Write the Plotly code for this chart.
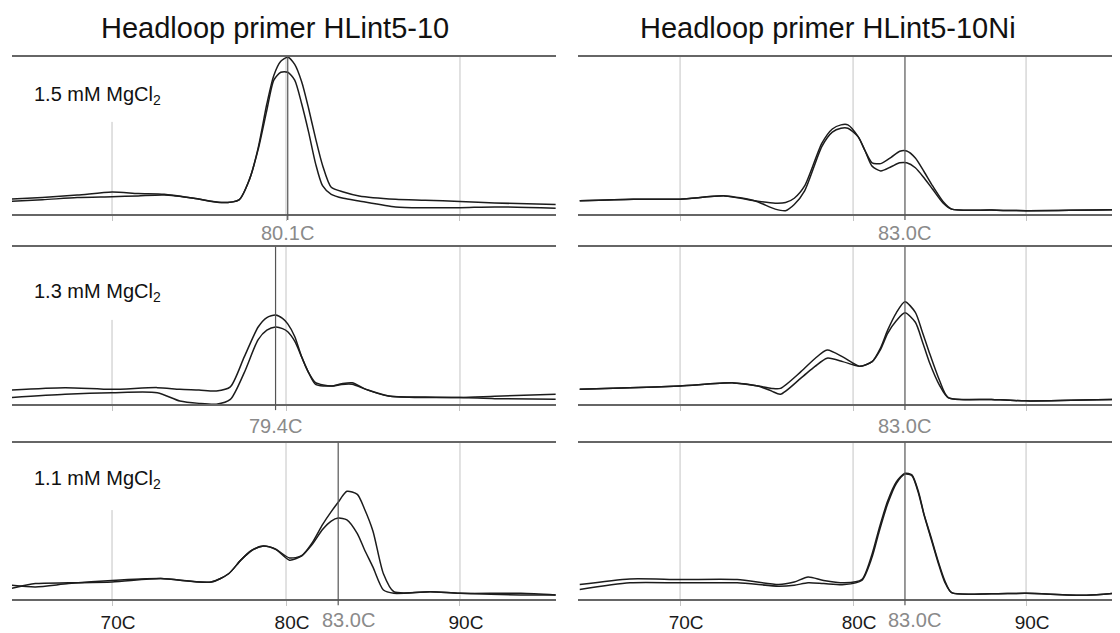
import plotly.graph_objects as go

# The page body has an 8px margin, so the figure is drawn 8px in from the window edge.
OFF = 8
W, H = 1120 - OFF, 633 - OFF

# ---------------- data (temperature in C, signal in % of panel height) ----------------
temps_L1 = [64.2, 66, 68, 70, 71.5, 73, 74.7, 76.3, 77.3, 77.9, 78.4, 78.9, 79.3, 79.7, 80.1, 80.5,
            80.9, 81.3, 81.7, 82.1, 82.6, 83.3, 84.2, 86.3, 88, 90, 92, 95.5]
L1_a = [9.5, 10.5, 12, 14, 13, 12.5, 10, 7.3, 9, 22, 42, 70, 88, 97, 99.6, 95,
        84, 67, 48, 31, 17, 14, 11.5, 9.4, 8.8, 8, 7, 6]
L1_b = [8, 9, 10.5, 11, 11.5, 12, 10, 7.3, 9, 22, 41, 66, 85, 90, 90, 85,
        70, 52, 32, 18, 12.5, 10, 8.3, 4.5, 4, 4, 4.5, 3.7]

temps_L2 = [64.2, 67.3, 70, 72.6, 73.9, 75, 76, 76.8, 77.6, 78.4, 78.9, 79.4, 79.8, 80.1, 80.5,
            80.9, 81.3, 81.7, 82.6, 83.2, 83.8, 84.6, 85.9, 88, 90, 92, 95.5]
L2_a = [9, 10.5, 9.4, 10.5, 9.4, 9, 8.4, 11, 30, 49, 55, 56.6, 54.5, 51, 43,
        30, 20, 12.6, 11.5, 13, 13.6, 9.4, 5.2, 4.5, 4.2, 5, 6.3]
L2_b = [4.2, 6.3, 7.3, 7.3, 2, 0.5, 0, 3, 20, 41, 47, 49, 48, 46, 40,
        30, 20, 13.6, 11.5, 12.5, 12.6, 9.4, 5.2, 4.2, 4.2, 3.5, 3.1]

temps_L3 = [64.2, 65.6, 67.5, 70, 72.8, 75.7, 76.7, 77.4, 78, 78.7, 79.4, 80.2, 80.9, 81.5, 82.1,
            82.6, 83.0, 83.5, 84.1, 84.5, 85.0, 85.6, 86.2, 88.3, 90, 93.5, 95.5]
L3_a = [9, 7.9, 10, 12, 13.2, 11, 16.3, 25, 31, 34, 32, 26.4, 27.8, 36, 47.7,
        56, 62, 69, 67, 58, 43.5, 16.3, 4.8, 4.8, 3.8, 2.7, 2.7]
L3_b = [6.9, 10, 10.5, 11, 13.2, 11, 16.3, 25, 31, 34, 32, 25, 27.8, 35, 44.6,
        50, 51.9, 50.8, 42, 32, 20.5, 5.9, 3.8, 4.8, 3.8, 3.8, 2.7]

temps_R1 = [64.2, 67.3, 70, 72.6, 74.3, 75.5, 76.1, 76.6, 77.2, 78.2, 78.8, 79.3, 79.7, 80.3,
            80.7, 81.1, 81.6, 82.2, 82.7, 83.1, 83.6, 84.1, 84.6, 85.2, 85.7, 88, 90, 95.5]
R1_a = [8.4, 9.4, 9.4, 11.5, 8.4, 6.9, 7.3, 10, 17.8, 45, 54, 56.6, 56.6, 49,
        40, 32.5, 32, 36, 39.8, 40, 35.6, 27, 17.8, 8, 3.1, 2.5, 2.1, 2.7]
R1_b = [8.4, 9.4, 9.4, 11.5, 8.4, 3.1, 2.1, 6, 14.7, 43, 52, 54.5, 54.5, 49,
        40, 30.4, 27.3, 30, 32.5, 32.5, 29.4, 23, 15.7, 7, 3.1, 2.5, 2.1, 2.7]

temps_R2 = [64.2, 67.1, 70, 73.1, 74.5, 75.3, 75.8, 77.0, 77.8, 78.5, 79.4, 80.0, 80.4, 81.1,
            81.6, 82.0, 82.5, 83.0, 83.6, 84.0, 84.4, 85.0, 85.5, 88, 90, 95.5]
R2_a = [9.4, 10.4, 11.5, 13.5, 11.5, 10, 10, 20.8, 29, 34.4, 30, 26, 24, 27,
        36, 47, 58, 65, 58.3, 46, 33, 15, 4.2, 3, 2.1, 3.1]
R2_b = [9.4, 10.4, 11.5, 13.5, 11.5, 8.3, 6.3, 16.7, 24, 29.2, 27, 25, 24, 27,
        35, 45, 53, 58, 52, 40, 27, 12, 4.2, 3, 2.1, 3.1]

temps_R3 = [64.2, 67.1, 70, 73.3, 75.7, 76.6, 77.4, 78.3, 79.5, 80.5, 81.1, 81.5, 82.0, 82.5,
            83.0, 83.4, 83.8, 84.1, 84.5, 84.9, 85.3, 85.7, 88, 90, 93.5, 95.5]
R3_a = [9.4, 13, 12.6, 12.6, 9.4, 11, 14.2, 12, 10.5, 12.6, 29, 45, 62.8, 75,
        80.5, 79.5, 68, 54.4, 40, 25, 12, 4.2, 3.5, 3.8, 2.5, 4.2]
R3_b = [6.3, 10.5, 10.5, 10.5, 8.4, 9, 10.5, 10, 9.4, 12, 27, 43, 61, 74,
        80, 79, 67, 54, 39, 24, 11, 4.2, 3.5, 3.8, 2.5, 4.2]

column_titles = ["Headloop primer HLint5-10", "Headloop primer HLint5-10Ni"]
mg_labels = ["1.5 mM MgCl<sub>2</sub>", "1.3 mM MgCl<sub>2</sub>", "1.1 mM MgCl<sub>2</sub>"]
marker_temps = {"L": [80.1, 79.4, 83.0], "R": [83.0, 83.0, 83.0]}
tick_vals = [70, 80, 90]
tick_text = ["70C", "80C", "90C"]

series = {
    ("L", 0): (temps_L1, L1_a, L1_b), ("R", 0): (temps_R1, R1_a, R1_b),
    ("L", 1): (temps_L2, L2_a, L2_b), ("R", 1): (temps_R2, R2_a, R2_b),
    ("L", 2): (temps_L3, L3_a, L3_b), ("R", 2): (temps_R3, R3_a, R3_b),
}

# ---------------- layout geometry (screen pixels) ----------------
row_top = [57, 249, 447]
row_bot = [216, 408, 605]
col_px = {"L": (12, 556), "R": (578, 1120)}
col_range = {"L": [64.25, 95.52], "R": [64.1, 95.43]}
label_gap_y = [235, 430, 626]
mg_label_y = [96, 295, 484]
gridline_start = [58.5, 53.5, 57.0]   # left-panel 70C gridline hidden above this (under label)


def py(p):
    return 1 - (p - OFF) / H


def px(p):
    return (p - OFF) / W


fig = go.Figure()
layout = dict(width=W, height=H, margin=dict(l=0, r=0, t=0, b=0),
              paper_bgcolor="white", plot_bgcolor="white", showlegend=False,
              font=dict(family="Liberation Sans, Arial, sans-serif", color="#222"))
shapes = []
annotations = []

LINE = "#1c1c1c"
AXIS = "#666666"
GRID = "#c4c4c4"
MARK = "#555555"
MLAB = "#8a8a8a"

idx = 0
for row in range(3):
    for col in ["L", "R"]:
        idx += 1
        xa = "xaxis" if idx == 1 else f"xaxis{idx}"
        ya = "yaxis" if idx == 1 else f"yaxis{idx}"
        xr = "x" if idx == 1 else f"x{idx}"
        yr = "y" if idx == 1 else f"y{idx}"
        x0, x1 = col_px[col]
        bottom = row == 2
        layout[xa] = dict(domain=[max(px(x0), 0), min(px(x1), 1)], range=col_range[col], anchor=yr,
                          showgrid=False, zeroline=False, showline=True, mirror=True,
                          linecolor=AXIS, linewidth=2,
                          tickmode="array", tickvals=tick_vals, ticktext=tick_text,
                          ticks="outside", ticklen=5, tickcolor=GRID, tickwidth=1,
                          showticklabels=bottom, ticklabelshift=6,
                          tickfont=dict(size=19, color="#1a1a1a"), fixedrange=True)
        layout[ya] = dict(domain=[py(row_bot[row]), py(row_top[row])], range=[0, 100],
                          anchor=xr, visible=False, fixedrange=True)
        t, a, b = series[(col, row)]
        for yv in (b, a):
            fig.add_trace(go.Scatter(x=t, y=yv, mode="lines", xaxis=xr, yaxis=yr,
                                     line=dict(color=LINE, width=1.5, shape="spline", smoothing=0.7),
                                     hoverinfo="skip"))
        # light vertical gridlines
        for tv in tick_vals:
            top_v = 100
            if col == "L" and tv == 70:
                top_v = gridline_start[row]
            shapes.append(dict(type="line", xref=xr, yref=yr, x0=tv, x1=tv, y0=0, y1=top_v,
                               line=dict(color=GRID, width=1), layer="below"))
        # melting-peak marker line
        mt = marker_temps[col][row]
        shapes.append(dict(type="line", xref=xr, yref="paper", x0=mt, x1=mt,
                           y0=py(row_bot[row] + 6), y1=py(row_top[row]),
                           line=dict(color=MARK, width=1.2), layer="above"))
        xshift = 10 if bottom else 0
        annotations.append(dict(text=f"{mt:.1f}C", xref=xr, yref="paper", x=mt, y=py(label_gap_y[row]),
                                xanchor="center", yanchor="middle", showarrow=False, xshift=xshift,
                                font=dict(size=20, color=MLAB)))
        if col == "L":
            annotations.append(dict(text=mg_labels[row], xref="paper", yref="paper",
                                    x=px(32), y=py(mg_label_y[row]), xanchor="left", yanchor="middle",
                                    showarrow=False, font=dict(size=20, color="#111")))

for i, title in enumerate(column_titles):
    cx = [275, 828][i]
    annotations.append(dict(text=title, xref="paper", yref="paper", x=px(cx), y=py(28),
                            xanchor="center", yanchor="middle", showarrow=False,
                            font=dict(size=29, color="#111")))

layout["shapes"] = shapes
layout["annotations"] = annotations
fig.update_layout(**layout)
fig.write_html("out.html")
